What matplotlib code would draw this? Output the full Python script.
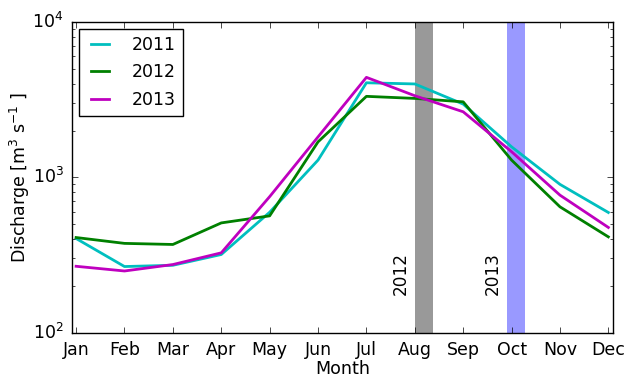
import matplotlib
matplotlib.use("Agg")
import matplotlib.pyplot as plt
from matplotlib.ticker import LogLocator, LogFormatterMathtext, NullFormatter

months = ["Jan", "Feb", "Mar", "Apr", "May", "Jun",
          "Jul", "Aug", "Sep", "Oct", "Nov", "Dec"]

q2011 = [403, 266, 271, 318, 595, 1290, 4060, 3990, 2960, 1570, 900, 593]
q2012 = [409, 375, 369, 508, 564, 1690, 3320, 3220, 3060, 1290, 645, 413]
q2013 = [267, 249, 274, 326, 750, 1820, 4400, 3350, 2640, 1460, 767, 475]

series_labels = ["2011", "2012", "2013"]
series_colors = ["c", "g", "m"]

# shaded periods (month index start, end) and their labels
event_labels = ["2012", "2013"]
event_spans = [(7.0, 7.37), (8.91, 9.28)]
event_colors = ["k", "b"]

plt.style.use("classic")
plt.rcParams["mathtext.fontset"] = "dejavusans"
plt.rcParams["font.family"] = ["DejaVu Sans"]

fig = plt.figure(figsize=(6.27, 3.78), dpi=100)
ax = fig.add_axes([72 / 627, 1 - 332.5 / 378, (612.7 - 72) / 627, (332.5 - 22) / 378])

x = list(range(len(months)))
for vals, lab, col in zip([q2011, q2012, q2013], series_labels, series_colors):
    ax.plot(x, vals, color=col, lw=2, label=lab)

for (x0, x1), lab, col in zip(event_spans, event_labels, event_colors):
    ax.axvspan(x0, x1, color=col, alpha=0.4, lw=0)
    ax.text(x0 - 0.11, 241, lab, rotation=90, ha="right", va="center", fontsize=12.2)

ax.set_yscale("log")
ax.set_ylim(100, 10000)
ax.set_xlim(-0.085, 11.09)
ax.set_xticks(x)
ax.set_xticklabels(months, fontsize=12.5)
ax.yaxis.set_major_locator(LogLocator(base=10))
ax.yaxis.set_major_formatter(LogFormatterMathtext())
ax.yaxis.set_minor_formatter(NullFormatter())
ax.tick_params(axis="both", which="major", labelsize=12.5, direction="in", length=4, pad=6)
ax.tick_params(axis="y", which="minor", direction="in", length=2)

ax.set_xlabel("Month", fontsize=12.6, labelpad=1)
ax.set_ylabel(r"Discharge [m$^3$ s$^{-1}$ ]", fontsize=12.5)
ax.yaxis.set_label_coords(-0.0735, 0.5)

leg = ax.legend(loc="upper left", fontsize=12.5, frameon=True, fancybox=False,
                handlelength=1.65, handletextpad=1.0, borderpad=0.4, labelspacing=0.55,
                borderaxespad=0.4)
leg.get_frame().set_edgecolor("k")

fig.savefig("out.png", dpi=100)
